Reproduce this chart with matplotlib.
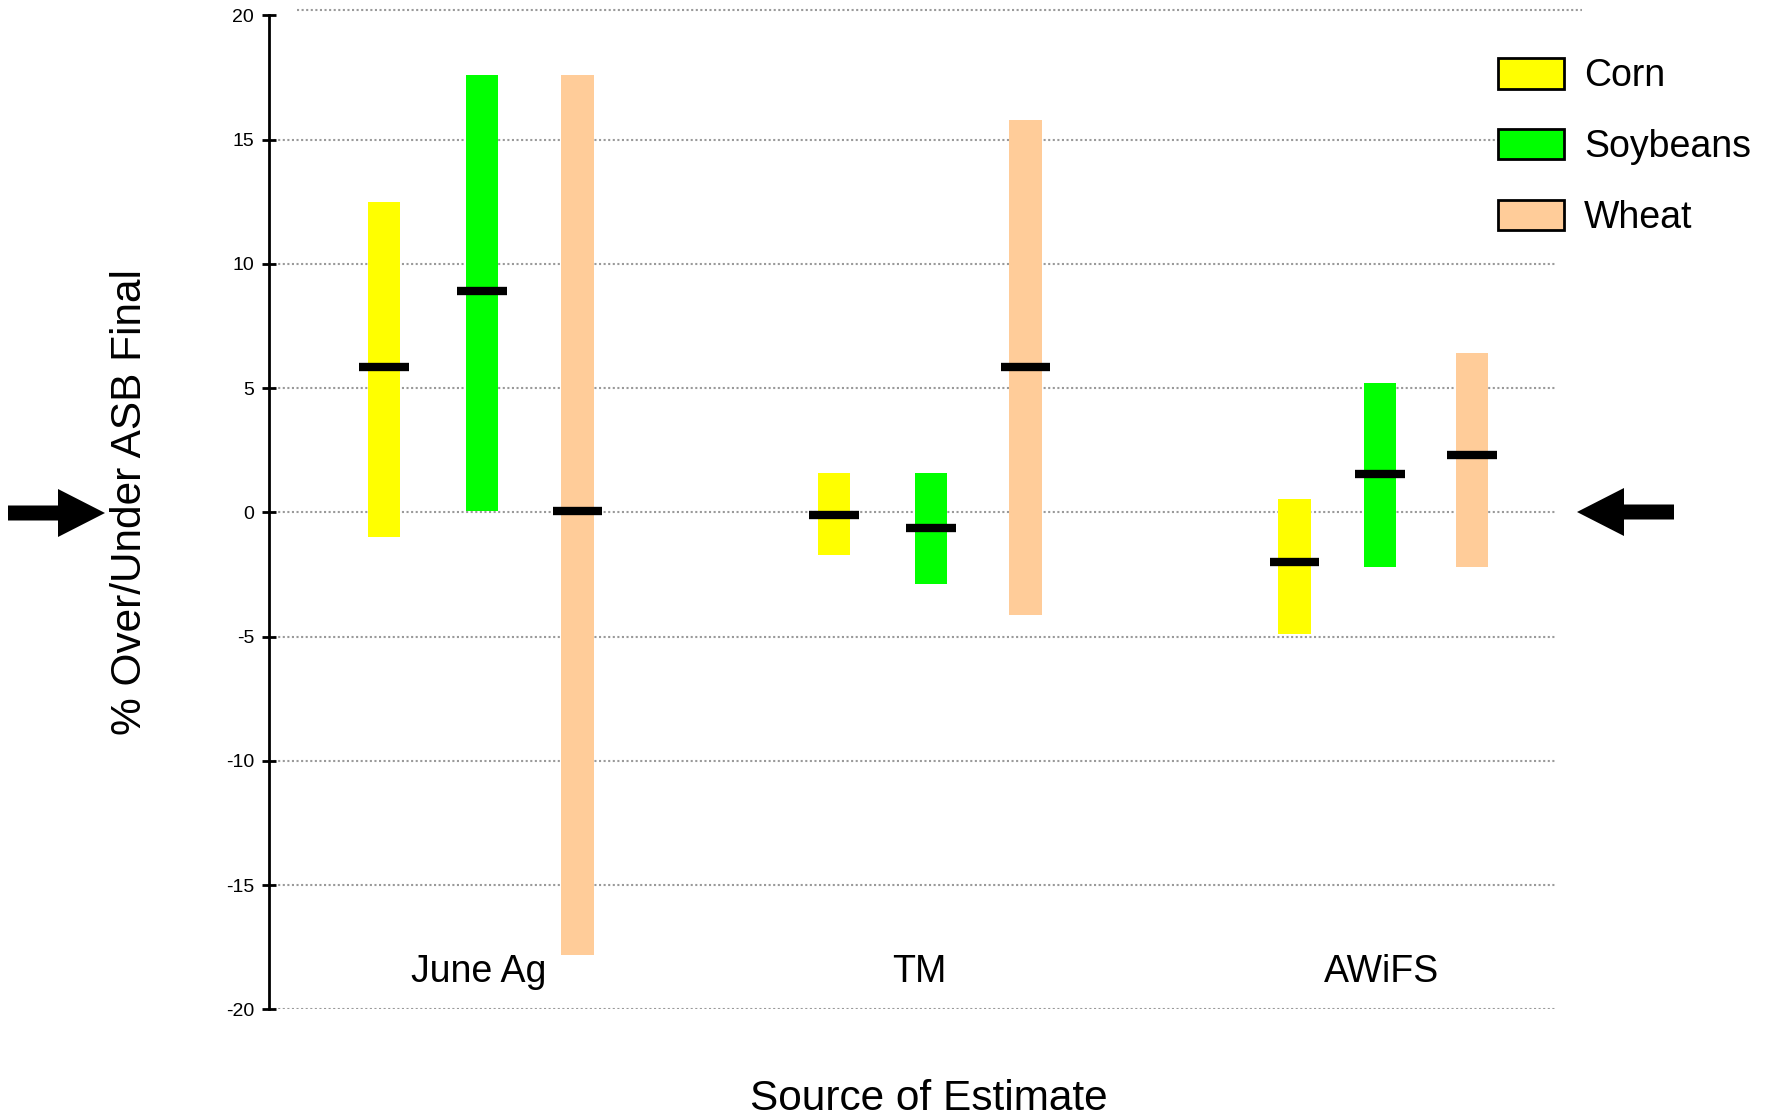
import matplotlib
matplotlib.use('Agg')
import matplotlib.pyplot as plt
from matplotlib.patches import Polygon, Patch

plt.rcParams['font.family'] = ['Liberation Sans', 'DejaVu Sans']
plt.rcParams['axes.unicode_minus'] = False

sources = ['June Ag', 'TM', 'AWiFS']
crops = ['Corn', 'Soybeans', 'Wheat']
colors = ['#ffff00', '#00ff00', '#ffcc99']

# low / high / median of % over/under ASB final, per crop, per source
corn_low = [-1.0, -1.7, -4.9]
corn_high = [12.5, 1.6, 0.55]
corn_mid = [5.85, -0.1, -2.0]

soy_low = [0.05, -2.9, -2.2]
soy_high = [17.6, 1.6, 5.2]
soy_mid = [8.9, -0.65, 1.55]

wheat_low = [-17.8, -4.15, -2.2]
wheat_high = [17.6, 15.8, 6.4]
wheat_mid = [0.05, 5.85, 2.3]

lows = [corn_low, soy_low, wheat_low]
highs = [corn_high, soy_high, wheat_high]
mids = [corn_mid, soy_mid, wheat_mid]

W, H = 1771, 1117
fig = plt.figure(figsize=(W / 100, H / 100), dpi=100)
ax = fig.add_axes([269 / W, 0.0964, 1313 / W, 0.8966])

# bar offsets inside each group (the original spacing is a bit uneven)
offsets = [[-0.218, -0.216, -0.19],
           [0.0, 0.0, 0.0],
           [0.213, 0.211, 0.205]]
bar_w = 0.072
mid_half = 0.055

for k in range(3):
    xs = [i + offsets[k][i] for i in range(len(sources))]
    heights = [h - l for h, l in zip(highs[k], lows[k])]
    ax.bar(xs, heights, bottom=lows[k], width=bar_w, color=colors[k],
           edgecolor='none', zorder=2)
    ax.hlines(mids[k], [x - mid_half for x in xs], [x + mid_half for x in xs],
              colors='black', linewidth=6, zorder=3)

ax.set_xlim(-0.474, 2.450)
ax.set_ylim(-20, 20.3)
ax.set_yticks(range(-20, 21, 5))

for v in range(-20, 20, 5):
    ax.axhline(v, xmin=0, xmax=0.980, color='#9a9a9a', linewidth=1.5,
               linestyle=(0, (1, 1.2)), zorder=1)
ax.axhline(20.2, xmin=0.0213, xmax=1.0, color='#9a9a9a', linewidth=1.5,
           linestyle=(0, (1, 1.2)), zorder=1, clip_on=False)

for s in ['top', 'right', 'bottom']:
    ax.spines[s].set_visible(False)
ax.spines['left'].set_linewidth(2)
ax.spines['left'].set_bounds(-20, 20)
ax.set_xticks([])
ax.tick_params(axis='y', direction='inout', length=9.5, width=2,
               labelsize=14, pad=6)

label_x = [-0.008, 0.975, 2.003]
for i, name in enumerate(sources):
    ax.text(label_x[i], -18.5, name, ha='center', va='center', fontsize=27)

ax.set_ylabel('% Over/Under ASB Final', fontsize=30.5)
ax.yaxis.set_label_coords(-0.091, 0.5066)
ax.set_xlabel('Source of Estimate', fontsize=30.5)
ax.xaxis.set_label_coords(0.5027, -0.070)

handles = [Patch(facecolor=c, edgecolor='black', linewidth=2) for c in colors]
fig.legend(handles, crops, loc='upper left', bbox_to_anchor=(1498 / W, 1 - 58 / H),
           frameon=False, fontsize=27, handlelength=1.75, handleheight=0.88,
           handletextpad=0.55, labelspacing=0.92, borderaxespad=0, borderpad=0)


def arrow(tip_x, tip_y, direction):
    # direction +1 points right, -1 points left (pixel units from top-left)
    head_len, head_h, shaft_h, shaft_len = 47, 48, 15, 50
    d = direction
    pts = [
        (tip_x, tip_y),
        (tip_x - d * head_len, tip_y - head_h / 2),
        (tip_x - d * head_len, tip_y - shaft_h / 2),
        (tip_x - d * (head_len + shaft_len), tip_y - shaft_h / 2),
        (tip_x - d * (head_len + shaft_len), tip_y + shaft_h / 2),
        (tip_x - d * head_len, tip_y + shaft_h / 2),
        (tip_x - d * head_len, tip_y + head_h / 2),
    ]
    pts = [(x / W, 1 - y / H) for x, y in pts]
    fig.add_artist(Polygon(pts, closed=True, facecolor='black', edgecolor='none',
                           transform=fig.transFigure))


arrow(105, 513, 1)
arrow(1577, 512, -1)

fig.savefig('out.png', dpi=100)
